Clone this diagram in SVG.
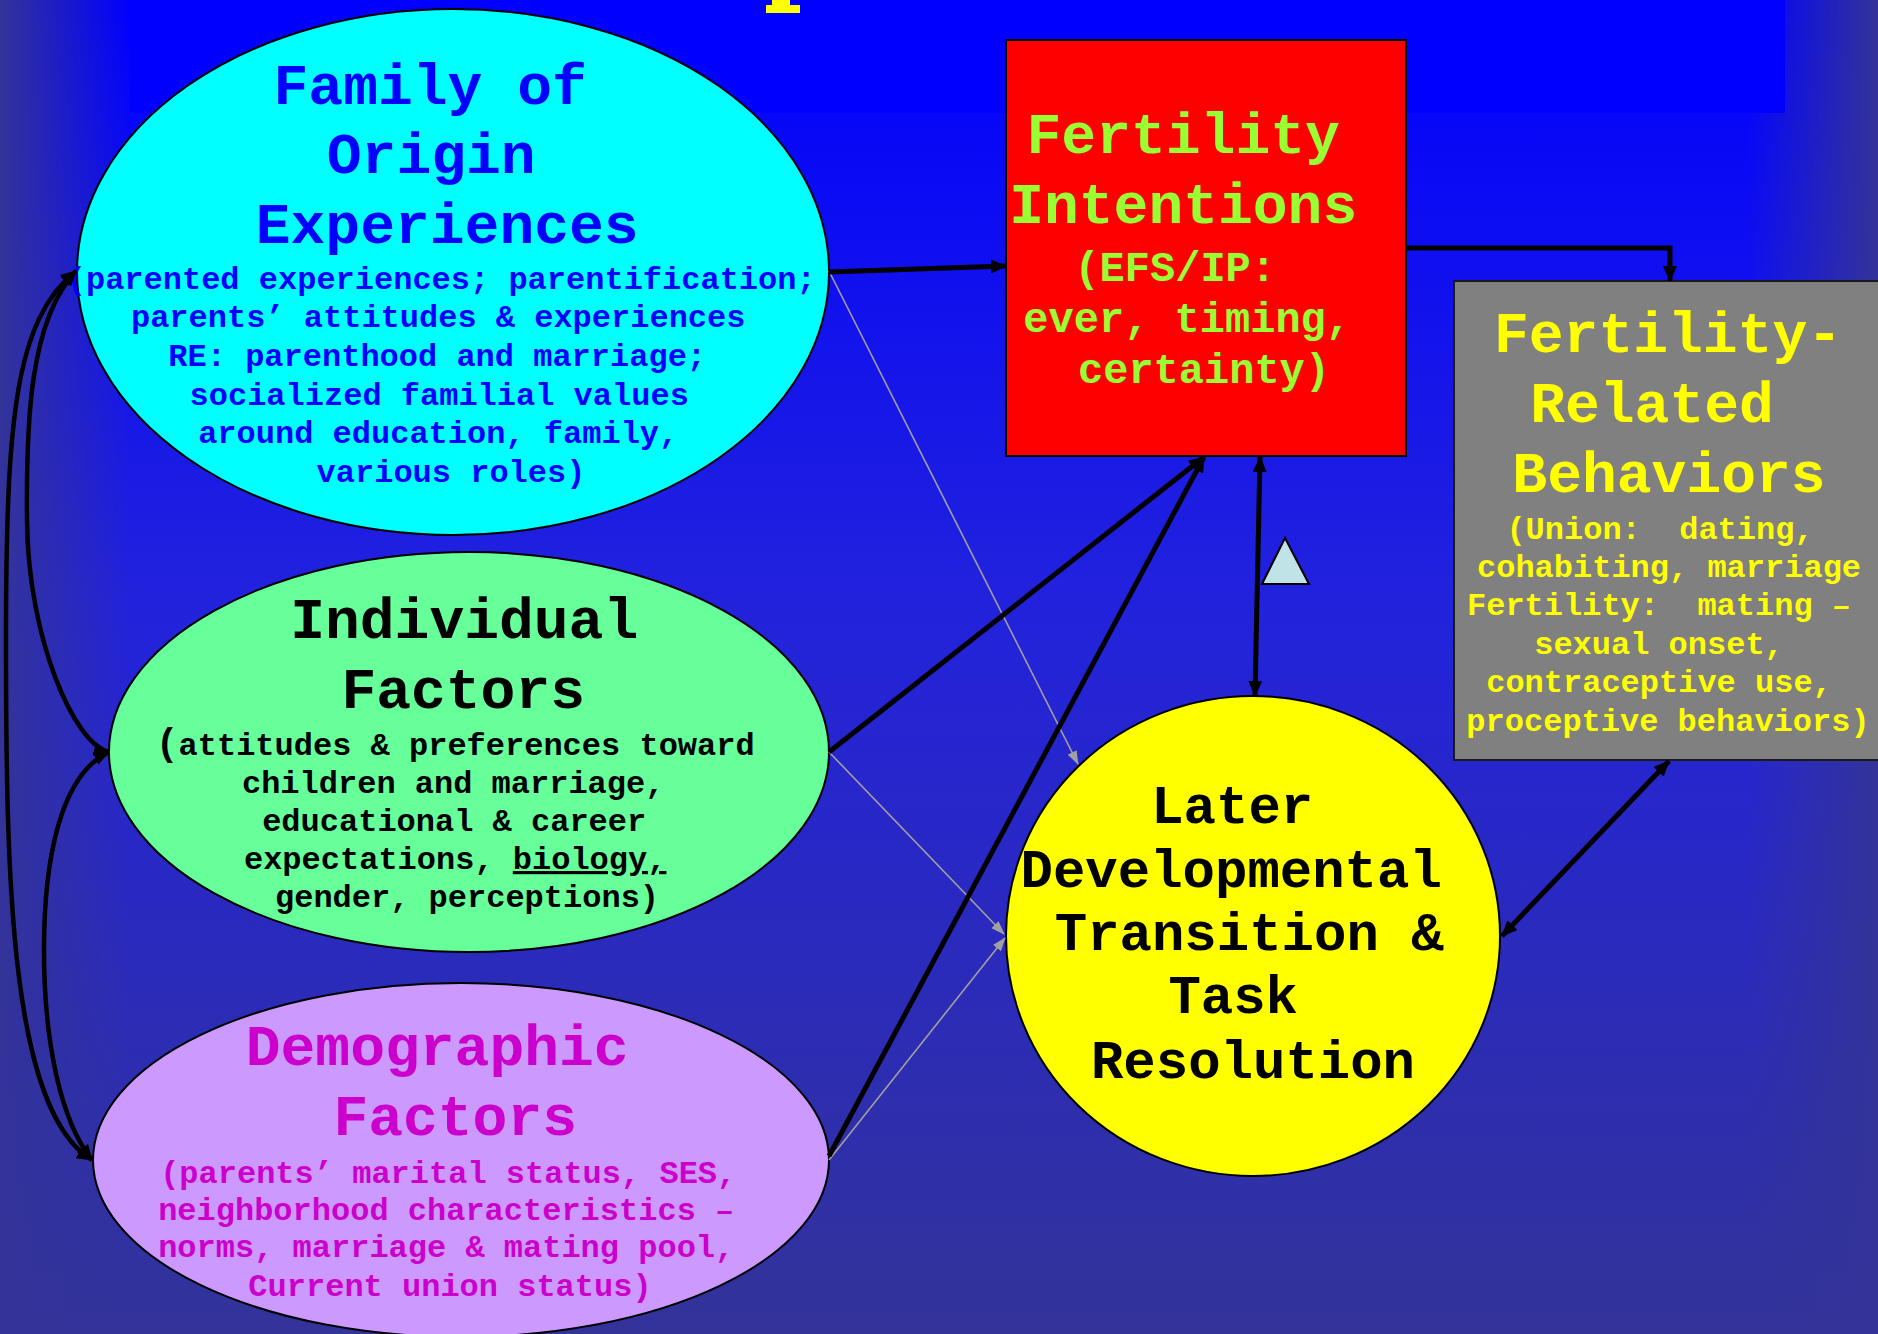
<svg xmlns="http://www.w3.org/2000/svg" width="1878" height="1334" viewBox="0 0 1878 1334">
<defs>
<linearGradient id="bgV" x1="0" y1="0" x2="0" y2="1">
<stop offset="0" stop-color="#0000FF"/>
<stop offset="0.45" stop-color="#2222DD"/>
<stop offset="1" stop-color="#333399"/>
</linearGradient>
<linearGradient id="edgeL" x1="0" y1="0" x2="1" y2="0">
<stop offset="0" stop-color="#333399" stop-opacity="1"/>
<stop offset="1" stop-color="#333399" stop-opacity="0"/>
</linearGradient>
<linearGradient id="edgeR" x1="1" y1="0" x2="0" y2="0">
<stop offset="0" stop-color="#333399" stop-opacity="1"/>
<stop offset="1" stop-color="#333399" stop-opacity="0"/>
</linearGradient>
<marker id="ah" markerUnits="userSpaceOnUse" markerWidth="16" markerHeight="14" refX="15" refY="7" orient="auto-start-reverse">
<path d="M0,0 L16,7 L0,14 z" fill="#000"/>
</marker>
<marker id="ahg" markerUnits="userSpaceOnUse" markerWidth="14" markerHeight="10" refX="13" refY="5" orient="auto">
<path d="M0,0 L14,5 L0,10 z" fill="#A0A0A0"/>
</marker>
</defs>
<style>
text{font-family:"Liberation Mono","Courier New",monospace;font-weight:bold;text-anchor:middle}
.t{font-size:58px}
.s{font-size:32px}
.m{font-size:42px}
.l{font-size:54px}
.node{stroke:#000;stroke-width:2}
.thick{fill:none;stroke:#000;stroke-width:5}
.curve{fill:none;stroke:#000;stroke-width:4.5}
.thin{fill:none;stroke:#A0A0A0;stroke-width:1.6}
</style>
<g id="background">
<rect x="0" y="0" width="1878" height="1334" fill="url(#bgV)"/>
<rect x="0" y="0" width="130" height="1334" fill="url(#edgeL)"/>
<rect x="1748" y="0" width="130" height="1334" fill="url(#edgeR)"/>
<rect x="130" y="0" width="1655" height="113" fill="#0000FF"/>
<path d="M772,0 L790,0 L790,5 L800,5 L800,13 L766,13 L766,5 L772,5 z" fill="#FFFF00"/>
</g>
<g id="node-family">
<ellipse class="node" cx="453" cy="272" rx="376" ry="263" fill="#00FFFF"/>
<text fill="#0000FF">
<tspan class="t" x="435" y="104">Family of</tspan>
<tspan class="t" x="436" y="173">Origin</tspan>
<tspan class="t" x="452" y="243">Experiences</tspan>
<tspan class="s" x="446" y="289">(parented experiences; parentification;</tspan>
<tspan class="s" x="443" y="327">parents’ attitudes &amp; experiences</tspan>
<tspan class="s" x="442" y="366">RE: parenthood and marriage;</tspan>
<tspan class="s" x="444" y="405">socialized familial values</tspan>
<tspan class="s" x="443" y="443">around education, family,</tspan>
<tspan class="s" x="451" y="482">various roles)</tspan>
</text>
</g>
<g id="node-intentions">
<rect class="node" x="1006" y="40" width="400" height="416" fill="#FF0000"/>
<text fill="#99FF33">
<tspan class="t" x="1188" y="153">Fertility</tspan>
<tspan class="t" x="1188" y="223">Intentions</tspan>
<tspan class="m" x="1180" y="281">(EFS/IP:</tspan>
<tspan class="m" x="1192" y="332">ever, timing,</tspan>
<tspan class="m" x="1204" y="383">certainty)</tspan>
</text>
</g>
<g id="node-behaviors">
<rect x="1454" y="281" width="440" height="479" fill="#808080" stroke="#1a1a1a" stroke-width="2"/>
<text fill="#FFFF00" xml:space="preserve"><tspan class="t" x="1668" y="352">Fertility-</tspan><tspan class="t" x="1652" y="422">Related</tspan><tspan class="t" x="1669" y="492">Behaviors</tspan><tspan class="s" x="1660" y="539">(Union:  dating,</tspan><tspan class="s" x="1669" y="577">cohabiting, marriage</tspan><tspan class="s" x="1659" y="615">Fertility:  mating –</tspan><tspan class="s" x="1659" y="654">sexual onset,</tspan><tspan class="s" x="1659" y="692">contraceptive use,</tspan><tspan class="s" x="1668" y="731">proceptive behaviors)</tspan></text>
</g>
<g id="node-individual">
<ellipse class="node" cx="469" cy="752" rx="360" ry="200" fill="#66FF99"/>
<text fill="#000">
<tspan class="t" x="469" y="638">Individual</tspan>
<tspan class="t" x="468" y="708">Factors</tspan>
<tspan class="s" x="460" y="755"><tspan font-size="38">(</tspan>attitudes &amp; preferences toward</tspan>
<tspan class="s" x="458" y="793">children and marriage,</tspan>
<tspan class="s" x="459" y="831">educational &amp; career</tspan>
<tspan class="s" x="460" y="869">expectations, <tspan text-decoration="underline">biology,</tspan></tspan>
<tspan class="s" x="467" y="907">gender, perceptions)</tspan>
</text>
</g>
<g id="node-demographic">
<ellipse class="node" cx="461" cy="1160" rx="368" ry="177" fill="#CC99FF"/>
<text fill="#CC00CC">
<tspan class="t" x="442" y="1065">Demographic</tspan>
<tspan class="t" x="460" y="1135">Factors</tspan>
<tspan class="s" x="453" y="1183">(parents’ marital status, SES,</tspan>
<tspan class="s" x="451" y="1220">neighborhood characteristics –</tspan>
<tspan class="s" x="451" y="1257">norms, marriage &amp; mating pool,</tspan>
<tspan class="s" x="450" y="1296">Current union status)</tspan>
</text>
</g>
<g id="node-later">
<ellipse class="node" cx="1253" cy="936" rx="247" ry="240" fill="#FFFF00"/>
<text fill="#000">
<tspan class="l" x="1237" y="823">Later</tspan>
<tspan class="l" x="1236" y="887">Developmental</tspan>
<tspan class="l" x="1254" y="950">Transition &amp;</tspan>
<tspan class="l" x="1238" y="1013">Task</tspan>
<tspan class="l" x="1253" y="1078">Resolution</tspan>
</text>
</g>
<g id="moderator">
<polygon points="1285,538 1262,584 1309,584" fill="#BFE3E6" stroke="#000" stroke-width="2"/>
</g>
<g id="connectors">
<path class="thin" d="M829,271 L1078,764" marker-end="url(#ahg)"/>
<path class="thin" d="M829,752 L1004,934" marker-end="url(#ahg)"/>
<path class="thin" d="M829,1160 L1005,938" marker-end="url(#ahg)"/>
<path class="thick" d="M829,272 L1006,266" marker-end="url(#ah)"/>
<path class="thick" d="M1406,248 L1670,248 L1670,281" marker-end="url(#ah)"/>
<path class="thick" d="M829,752 L1204,457" marker-end="url(#ah)"/>
<path class="thick" d="M829,1156 L1204,457" marker-end="url(#ah)"/>
<path class="thick" d="M1260,457 L1255,696" marker-start="url(#ah)" marker-end="url(#ah)"/>
<path class="thick" d="M1502,936 L1669,761" marker-start="url(#ah)" marker-end="url(#ah)"/>
<path class="curve" d="M76,271 C15,320 6,420 6,640 C6,880 10,1110 92,1160" marker-start="url(#ah)" marker-end="url(#ah)"/>
<path class="curve" d="M76,271 C30,320 26,420 27,520 C28,640 75,745 109,752" marker-start="url(#ah)" marker-end="url(#ah)"/>
<path class="curve" d="M109,752 C60,775 44,860 44,950 C44,1040 60,1120 92,1160" marker-start="url(#ah)" marker-end="url(#ah)"/>
</g>
</svg>
